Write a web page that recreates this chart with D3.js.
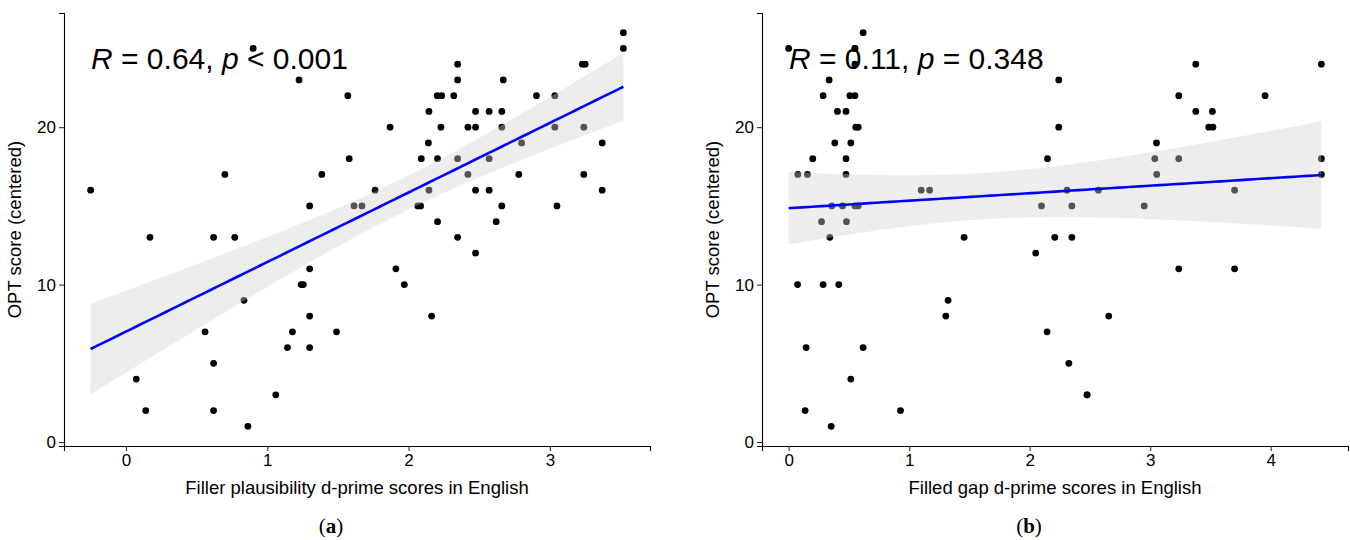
<!DOCTYPE html>
<html>
<head>
<meta charset="utf-8">
<script src="https://cdn.jsdelivr.net/npm/d3@7"></script>
<style>
  body { margin: 0; background: #fff; }
  svg { display: block; font-family: "Liberation Sans", Arial, sans-serif; }
</style>
</head>
<body>
<svg id="chart" width="1350" height="540"></svg>
<script>
// Panel (a): filler plausibility d-prime vs OPT score
const fillerX = [-0.25, 0.90, 1.225, 0.70, 1.386, 1.30, 0.17, 0.62, 0.77, 3.52, 3.52, 2.347, 3.23, 3.25,
  2.347, 2.67, 1.57, 2.203, 2.234, 2.32, 2.905, 3.035, 2.144, 2.474, 2.57, 2.66, 1.869, 2.229, 2.42,
  2.474, 2.66, 3.035, 3.24, 2.14, 2.80, 3.37, 1.58, 2.09, 2.205, 2.347, 2.57, 2.42, 2.78, 3.24, 1.763,
  2.144, 2.474, 2.57, 3.37, 1.614, 1.67, 2.065, 2.085, 2.66, 3.05, 2.205, 2.62, 2.347, 2.474, 1.30,
  1.24, 1.255, 0.835, 1.30, 0.56, 1.178, 1.49, 1.143, 1.30, 0.62, 0.073, 1.06, 0.14, 0.62, 0.863,
  1.91, 1.97, 2.163];
const fillerOPT = [16, 25, 23, 17, 17, 15, 13, 13, 13, 26, 25, 24, 24, 24,
  23, 23, 22, 22, 22, 22, 22, 22, 21, 21, 21, 21, 20, 20, 20,
  20, 20, 20, 20, 19, 19, 19, 18, 18, 18, 18, 18, 17, 17, 17, 16,
  16, 16, 16, 16, 15, 15, 15, 15, 15, 15, 14, 14, 13, 12, 11,
  10, 10, 9, 8, 7, 7, 7, 6, 6, 5, 4, 3, 2, 2, 1,
  11, 10, 8];

// Panel (b): filled gap d-prime vs OPT score
// (last two entries: overlapping participants, hidden under other dots)
const gapX = [0.0, 0.618, 0.55, 0.55, 0.336, 0.286, 0.508, 0.55, 0.405, 0.476, 0.557, 0.577, 0.383, 0.516,
  0.20, 0.476, 0.076, 0.156, 0.476, 1.10, 1.17, 0.358, 0.447, 0.55, 0.577, 0.273, 0.48, 0.342, 1.456,
  3.378, 4.42, 2.241, 3.237, 3.953, 3.378, 3.516, 2.241, 3.486, 3.52, 3.052, 2.148, 3.038, 3.237, 4.42,
  3.054, 4.42, 2.31, 2.57, 3.70, 2.098, 2.35, 2.95, 2.208, 2.35, 2.05, 0.074, 0.286, 0.416, 1.323,
  1.304, 0.145, 0.618, 0.516, 0.137, 0.928, 0.353, 3.237, 3.70, 2.656, 2.144, 2.325, 2.476,
  0.55, 2.476];
const gapOPT = [25, 26, 25, 24, 23, 22, 22, 22, 21, 21, 20, 20, 19, 19,
  18, 18, 17, 17, 17, 16, 16, 15, 15, 15, 15, 14, 14, 13, 13,
  24, 24, 23, 22, 22, 21, 21, 20, 20, 20, 19, 18, 18, 18, 18,
  17, 17, 16, 16, 16, 15, 15, 15, 13, 13, 12, 10, 10, 10, 9,
  8, 6, 6, 4, 2, 2, 1, 11, 11, 8, 7, 5, 3,
  25, 3];

const yTicks = [0, 10, 20];
const fillerTicks = [0, 1, 2, 3];
const gapTicks = [0, 1, 2, 3, 4];

const svg = d3.select("#chart");

// simple least squares fit with 95% band, like geom_smooth(method = "lm")
function linearFit(xs, ys) {
  const n = xs.length;
  const mx = d3.mean(xs), my = d3.mean(ys);
  let sxx = 0, sxy = 0;
  for (let i = 0; i < n; i++) {
    sxx += (xs[i] - mx) ** 2;
    sxy += (xs[i] - mx) * (ys[i] - my);
  }
  const slope = sxy / sxx;
  const icpt = my - slope * mx;
  let sse = 0;
  for (let i = 0; i < n; i++) sse += (ys[i] - icpt - slope * xs[i]) ** 2;
  const s = Math.sqrt(sse / (n - 2));
  const t = 1.99;
  const [x0, x1] = d3.extent(xs);
  return d3.range(80).map(k => {
    const x = x0 + (x1 - x0) * k / 79;
    const fit = icpt + slope * x;
    const se = s * Math.sqrt(1 / n + (x - mx) ** 2 / sxx);
    return { x, fit, lo: fit - t * se, hi: fit + t * se };
  });
}

function drawPanel(opts) {
  const { left, right, xs, ys, ticks, xTitle, label, stat } = opts;
  const top = 13, bottom = 446;
  const g = svg.append("g");

  const [ex0, ex1] = d3.extent(xs);
  const pad = (ex1 - ex0) * 0.05;
  const x = d3.scaleLinear().domain([ex0 - pad, ex1 + pad]).range([left, right]);
  const y = d3.scaleLinear().domain([-0.25, 27.25]).range([bottom, top]);

  // points
  g.append("g").selectAll("circle")
    .data(xs.map((v, i) => [v, ys[i]]))
    .enter()
    .append("circle")
    .attr("cx", d => x(d[0]))
    .attr("cy", d => y(d[1]))
    .attr("r", 3.4)
    .attr("fill", "#000");

  // confidence band + fit line
  const fit = linearFit(xs, ys);
  g.append("path")
    .datum(fit)
    .attr("d", d3.area().x(d => x(d.x)).y0(d => y(d.lo)).y1(d => y(d.hi)))
    .attr("fill", "rgb(210,210,210)")
    .attr("fill-opacity", 0.4);
  g.append("path")
    .datum(fit)
    .attr("d", d3.line().x(d => x(d.x)).y(d => y(d.fit)))
    .attr("fill", "none")
    .attr("stroke", "#0000ff")
    .attr("stroke-width", 2.6);

  // axes
  const xAxis = g.append("g")
    .attr("transform", `translate(0,${bottom})`)
    .call(d3.axisBottom(x).tickValues(ticks).tickFormat(d3.format("d")).tickSize(5).tickPadding(3));
  const yAxis = g.append("g")
    .attr("transform", `translate(${left},0)`)
    .call(d3.axisLeft(y).tickValues(yTicks).tickFormat(d3.format("d")).tickSize(5).tickPadding(3));
  [xAxis, yAxis].forEach(a => {
    a.select(".domain").attr("stroke", "#000").attr("stroke-width", 1.1);
    a.selectAll(".tick line").attr("stroke", "#333").attr("stroke-width", 1.1);
    a.selectAll(".tick text")
      .attr("fill", "#000")
      .style("font-size", "17px")
      .style("font-family", "'Liberation Sans', Arial, sans-serif");
  });

  // axis titles
  g.append("text")
    .attr("x", (left + right) / 2)
    .attr("y", 494)
    .attr("text-anchor", "middle")
    .style("font-size", "18.5px")
    .text(xTitle);
  g.append("text")
    .attr("transform", `translate(${left - 43},${(top + bottom) / 2}) rotate(-90)`)
    .attr("text-anchor", "middle")
    .style("font-size", "18.5px")
    .text("OPT score (centered)");

  // correlation annotation
  const ann = g.append("text")
    .attr("x", opts.annX)
    .attr("y", 69)
    .style("font-size", "30px")
    .attr("fill", "#000");
  ann.append("tspan").attr("font-style", "italic").text("R");
  ann.append("tspan").text(` = ${stat.r}, `);
  ann.append("tspan").attr("font-style", "italic").text("p");
  ann.append("tspan").text(` ${stat.p}`);

  // sub-figure label
  const lab = g.append("text")
    .attr("x", (left + right) / 2 - 26)
    .attr("y", 533)
    .attr("text-anchor", "middle")
    .style("font-family", "'Liberation Serif', 'DejaVu Serif', serif")
    .style("font-size", "21px");
  lab.append("tspan").text("(");
  lab.append("tspan").attr("font-weight", "bold").text(label);
  lab.append("tspan").text(")");
}

drawPanel({
  left: 64, right: 650, xs: fillerX, ys: fillerOPT, ticks: fillerTicks,
  xTitle: "Filler plausibility d-prime scores in English", label: "a",
  stat: { r: "0.64", p: "< 0.001" }, annX: 91
});
drawPanel({
  left: 762, right: 1348, xs: gapX, ys: gapOPT, ticks: gapTicks,
  xTitle: "Filled gap d-prime scores in English", label: "b",
  stat: { r: "0.11", p: "= 0.348" }, annX: 789
});
</script>
</body>
</html>
